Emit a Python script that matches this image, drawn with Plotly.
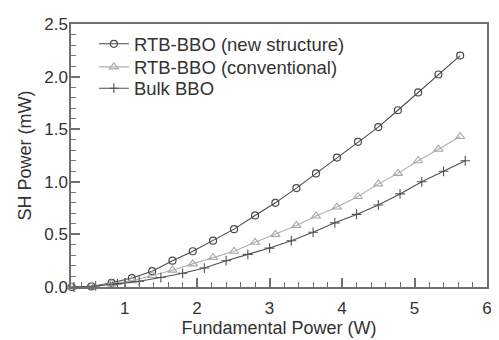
import plotly.graph_objects as go

# Data
x_rtb = [0.27, 0.54, 0.82, 1.10, 1.38, 1.66, 1.94, 2.22, 2.51, 2.80,
         3.08, 3.37, 3.64, 3.93, 4.22, 4.50, 4.77, 5.05, 5.33, 5.63]
y_new = [0.0, 0.005, 0.04, 0.085, 0.15, 0.25, 0.34, 0.44, 0.55, 0.68,
         0.80, 0.94, 1.08, 1.23, 1.38, 1.52, 1.68, 1.85, 2.02, 2.20]
y_conv = [0.0, 0.005, 0.03, 0.06, 0.11, 0.16, 0.22, 0.28, 0.34, 0.425,
          0.50, 0.585, 0.675, 0.76, 0.86, 0.98, 1.08, 1.20, 1.31, 1.43]
x_bulk = [0.3, 0.6, 0.9, 1.2, 1.5, 1.8, 2.1, 2.4, 2.7, 3.0,
          3.3, 3.6, 3.9, 4.2, 4.5, 4.8, 5.1, 5.4, 5.7]
y_bulk = [0.0, 0.01, 0.03, 0.055, 0.09, 0.13, 0.18, 0.25, 0.31, 0.37,
          0.44, 0.52, 0.61, 0.69, 0.78, 0.885, 1.00, 1.10, 1.20]

names = ["RTB-BBO (new structure)", "RTB-BBO (conventional)", "Bulk BBO"]
x_ticks = [1, 2, 3, 4, 5, 6]
y_ticks = [0.0, 0.5, 1.0, 1.5, 2.0, 2.5]

FONT = "Liberation Sans, Arial, sans-serif"
TXT = "#333333"

fig = go.Figure()
fig.add_trace(go.Scatter(
    x=x_rtb, y=y_new, name=names[0], mode="lines+markers", cliponaxis=False,
    legend="legend",
    line=dict(color="#4a4a4a", width=1.1),
    marker=dict(symbol="circle-open", size=7, color="#4a4a4a", line=dict(width=1.2))))
fig.add_trace(go.Scatter(
    x=x_rtb, y=y_conv, name=names[1], mode="lines+markers", cliponaxis=False,
    legend="legend2",
    line=dict(color="#b0b0b0", width=1.1),
    marker=dict(symbol="triangle-up-open", size=8, color="#a8a8a8", line=dict(width=1.1))))
fig.add_trace(go.Scatter(
    x=x_bulk, y=y_bulk, name=names[2], mode="lines+markers", cliponaxis=False,
    legend="legend3",
    line=dict(color="#505050", width=1.1),
    marker=dict(symbol="cross-thin-open", size=7, color="#505050", line=dict(width=1.1))))

axis_common = dict(
    showline=True, linecolor="#707070", linewidth=1.5, mirror=True,
    showgrid=False, zeroline=False,
    ticks="inside", ticklen=9, tickwidth=1.5, tickcolor="#707070",
    tickfont=dict(family=FONT, size=17, color=TXT),
    ticklabeloverflow="allow",
)

fig.update_xaxes(
    range=[0.26, 6.0], tickvals=x_ticks, ticktext=[str(v) for v in x_ticks],
    ticklabelstandoff=5,
    title=dict(text="Fundamental Power (W)", font=dict(family=FONT, size=18, color=TXT), standoff=0),
    minor=dict(ticks="inside", ticklen=5, dtick=0.2, tick0=0, tickcolor="#707070", tickwidth=1.2),
    **axis_common)

fig.update_yaxes(
    range=[0, 2.5], tickvals=y_ticks, ticktext=[f"{v:.1f}" for v in y_ticks],
    ticklabelstandoff=-2,
    title=dict(text="SH Power (mW)", font=dict(family=FONT, size=18, color=TXT), standoff=8),
    minor=dict(ticks="inside", ticklen=5, dtick=0.1, tick0=0, tickcolor="#707070", tickwidth=1.2),
    **axis_common)

leg = dict(x=0.055, xanchor="left", yanchor="middle", bgcolor="rgba(0,0,0,0)",
           font=dict(family=FONT, size=18.5, color=TXT), itemwidth=30)
# page body has an 8px default margin, so the figure is 8px smaller on each axis
fig.update_layout(
    width=491, height=332,
    margin=dict(l=63, r=7, t=7, b=53),
    paper_bgcolor="white", plot_bgcolor="white",
    showlegend=True,
    legend=dict(y=0.923, **leg),
    legend2=dict(y=0.835, **leg),
    legend3=dict(y=0.754, **leg),
)

fig.write_html("out.html")
